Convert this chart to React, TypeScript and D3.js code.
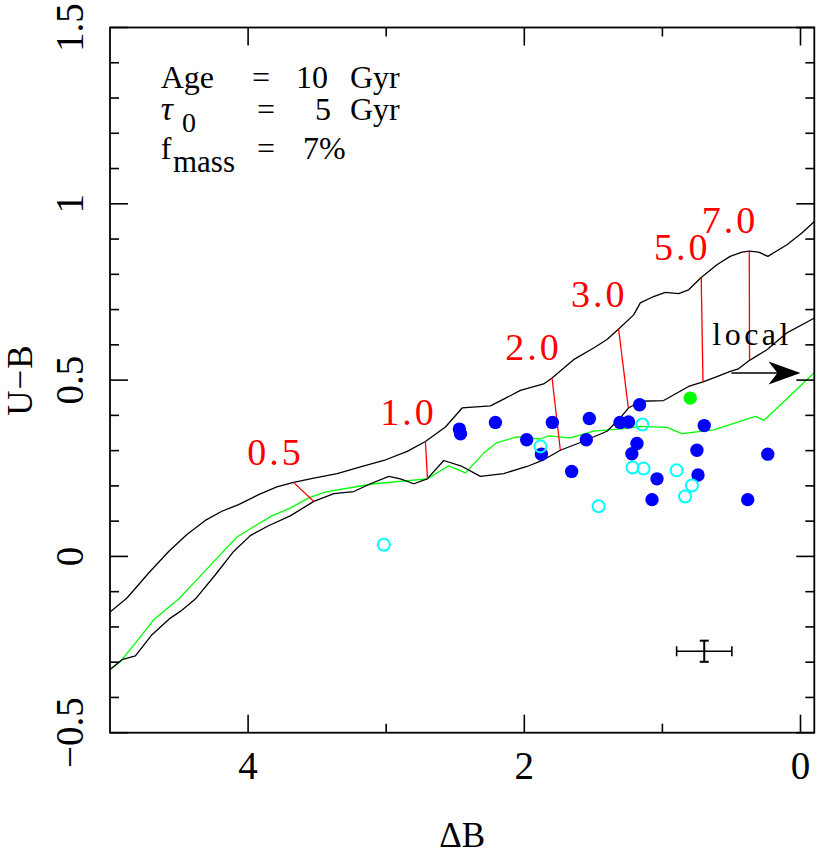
import React from "react";
import * as d3 from "d3";

// ---------- data ----------
const upperDB = [5.0, 4.877, 4.72, 4.575, 4.443, 4.31, 4.19, 4.069, 3.924, 3.792, 3.671, 3.524, 3.355, 3.186, 3.017, 2.848, 2.716, 2.571, 2.45, 2.245, 2.149, 2.028, 1.86, 1.799, 1.643, 1.498, 1.401, 1.317, 1.208, 1.16, 1.064, 0.979, 0.883, 0.81, 0.719, 0.605, 0.509, 0.424, 0.369, 0.304, 0.236, 0.098, -0.01, -0.101];
const upperUB = [-0.158, -0.118, -0.047, 0.014, 0.062, 0.102, 0.128, 0.147, 0.175, 0.197, 0.21, 0.222, 0.235, 0.254, 0.272, 0.298, 0.326, 0.367, 0.421, 0.427, 0.446, 0.471, 0.489, 0.506, 0.558, 0.591, 0.615, 0.645, 0.685, 0.719, 0.737, 0.749, 0.745, 0.756, 0.791, 0.827, 0.851, 0.863, 0.866, 0.863, 0.851, 0.884, 0.917, 0.95];

const lowerDB = [5.0, 4.913, 4.816, 4.696, 4.563, 4.491, 4.382, 4.237, 4.105, 3.984, 3.852, 3.695, 3.524, 3.379, 3.234, 3.114, 2.981, 2.897, 2.8, 2.703, 2.583, 2.45, 2.318, 2.149, 1.98, 1.86, 1.739, 1.594, 1.401, 1.305, 1.245, 1.16, 0.991, 0.81, 0.706, 0.605, 0.509, 0.449, 0.369, 0.243, 0.098, -0.101];
const lowerUB = [-0.321, -0.293, -0.282, -0.222, -0.175, -0.156, -0.121, -0.052, 0.014, 0.059, 0.087, 0.115, 0.156, 0.178, 0.184, 0.206, 0.227, 0.22, 0.206, 0.22, 0.272, 0.255, 0.227, 0.235, 0.255, 0.274, 0.301, 0.323, 0.355, 0.393, 0.421, 0.44, 0.442, 0.482, 0.495, 0.51, 0.525, 0.532, 0.556, 0.586, 0.634, 0.676];

const modelDB = [5.0, 4.925, 4.816, 4.684, 4.503, 4.37, 4.213, 4.081, 3.948, 3.828, 3.695, 3.562, 3.439, 3.09, 2.703, 2.547, 2.426, 2.294, 2.197, 2.052, 1.884, 1.823, 1.666, 1.498, 1.317, 1.16, 0.967, 0.858, 0.63, 0.436, 0.328, 0.263, -0.046, -0.101];
const modelUB = [-0.321, -0.298, -0.246, -0.18, -0.121, -0.066, 0.0, 0.055, 0.087, 0.115, 0.137, 0.166, 0.183, 0.206, 0.22, 0.257, 0.237, 0.293, 0.323, 0.339, 0.333, 0.342, 0.336, 0.355, 0.361, 0.369, 0.366, 0.348, 0.359, 0.383, 0.397, 0.386, 0.501, 0.522];

const ageLabels = ["0.5", "1.0", "2.0", "3.0", "5.0", "7.0"];
const ageTopDB = [3.671, 2.716, 1.799, 1.317, 0.719, 0.371];
const ageTopUB = [0.21, 0.326, 0.506, 0.645, 0.791, 0.866];
const ageBotDB = [3.522, 2.701, 1.739, 1.247, 0.706, 0.369];
const ageBotUB = [0.155, 0.22, 0.301, 0.422, 0.495, 0.556];
const ageTextDB = [3.802, 2.839, 1.934, 1.457, 0.856, 0.511];
const ageTextUB = [0.258, 0.374, 0.556, 0.708, 0.841, 0.917];

const filledDB = [2.47, 2.462, 2.209, 1.983, 1.876, 1.797, 1.657, 1.551, 1.529, 1.307, 1.245, 1.165, 1.184, 1.221, 1.039, 1.075, 0.697, 0.75, 0.742, 0.382, 0.237];
const filledUB = [0.361, 0.348, 0.38, 0.331, 0.29, 0.38, 0.241, 0.331, 0.391, 0.38, 0.381, 0.43, 0.32, 0.291, 0.22, 0.161, 0.371, 0.301, 0.231, 0.161, 0.29];

const openDB = [3.017, 1.883, 1.462, 1.216, 1.136, 1.145, 0.897, 0.786, 0.836];
const openUB = [0.033, 0.312, 0.142, 0.252, 0.249, 0.374, 0.244, 0.201, 0.17];

const localDB = [0.798];
const localUB = [0.449];

const errCenter = [0.697, -0.269];
const errHalf = [0.2, 0.03];

const arrowFrom = [0.5, 0.52];
const arrowTo = [0.0, 0.52];
const localTextPos = [0.639, 0.6];

const xMajor = [4, 2, 0];
const xMinor = [3, 1];
const yMajor = [1.5, 1, 0.5, 0, -0.5];
const yMajorLabels = ["1.5", "1", "0.5", "0", "\u22120.5"];
const yMinor = d3.range(-5, 16).map((i) => i / 10).filter((v) => Math.abs(v * 2 - Math.round(v * 2)) > 1e-6);

// ---------- layout ----------
const W = 817;
const H = 855;
const L = 110, R = 814.3, T = 27.5, B = 732.7;
const FONT = "'Liberation Serif', 'Times New Roman', serif";

const x = d3.scaleLinear().domain([5, -0.1]).range([L, R]);
const y = d3.scaleLinear().domain([-0.5, 1.5]).range([B, T]);

const zip = (a: number[], b: number[]) => a.map((v, i) => [v, b[i]] as [number, number]);
const line = d3.line<[number, number]>().x((d) => x(d[0])).y((d) => y(d[1]));

export default function App() {
  const major = 18, minor = 9;
  const ex = x(errCenter[0]), ey = y(errCenter[1]);
  const ex0 = x(errCenter[0] + errHalf[0]), ex1 = x(errCenter[0] - errHalf[0]);
  const ey0 = y(errCenter[1] + errHalf[1]), ey1 = y(errCenter[1] - errHalf[1]);
  const ax0 = x(arrowFrom[0]), ax1 = x(arrowTo[0]), ay = y(arrowFrom[1]);
  const annX = x(4.633);
  return (
    <svg width={W} height={H} style={{ position: "absolute", left: 0, top: 0, background: "#fff" }} fontFamily={FONT}>
      <defs>
        <clipPath id="plotclip">
          <rect x={L} y={T} width={R - L} height={B - T} />
        </clipPath>
      </defs>
      <rect x={0} y={0} width={W} height={H} fill="#fff" />

      <g clipPath="url(#plotclip)" fill="none" strokeLinejoin="round">
        <path d={line(zip(modelDB, modelUB)) || ""} stroke="#00ff00" strokeWidth={1.3} />
        <path d={line(zip(upperDB, upperUB)) || ""} stroke="#000" strokeWidth={1.3} />
        <path d={line(zip(lowerDB, lowerUB)) || ""} stroke="#000" strokeWidth={1.3} />
        {ageLabels.map((_, i) => (
          <line key={i} x1={x(ageTopDB[i])} y1={y(ageTopUB[i])} x2={x(ageBotDB[i])} y2={y(ageBotUB[i])} stroke="#ff0000" strokeWidth={1.3} />
        ))}
      </g>

      {ageLabels.map((t, i) => (
        <text key={t} x={x(ageTextDB[i])} y={y(ageTextUB[i])} fill="#ff0000" fontSize={38} textAnchor="middle" letterSpacing={3}>
          {t}
        </text>
      ))}

      {filledDB.map((d, i) => (
        <circle key={"f" + i} cx={x(d)} cy={y(filledUB[i])} r={6.7} fill="#0000ff" />
      ))}
      {openDB.map((d, i) => (
        <circle key={"o" + i} cx={x(d)} cy={y(openUB[i])} r={6} fill="none" stroke="#00ffff" strokeWidth={2} />
      ))}
      {localDB.map((d, i) => (
        <circle key={"l" + i} cx={x(d)} cy={y(localUB[i])} r={6.7} fill="#00ff00" />
      ))}

      {/* error bar */}
      <g stroke="#000">
        <line x1={ex0} x2={ex1} y1={ey} y2={ey} strokeWidth={1.6} />
        <line x1={ex0} x2={ex0} y1={ey - 5} y2={ey + 5} strokeWidth={1.6} />
        <line x1={ex1} x2={ex1} y1={ey - 5} y2={ey + 5} strokeWidth={1.6} />
        <line x1={ex} x2={ex} y1={ey0} y2={ey1} strokeWidth={2} />
        <line x1={ex - 4.5} x2={ex + 4.5} y1={ey0} y2={ey0} strokeWidth={2} />
        <line x1={ex - 4.5} x2={ex + 4.5} y1={ey1} y2={ey1} strokeWidth={2} />
      </g>

      {/* local arrow */}
      <line x1={ax0} x2={ax1 - 20} y1={ay} y2={ay} stroke="#000" strokeWidth={1.6} />
      <path d={`M${ax1},${ay} L${ax1 - 32},${ay - 11.5} L${ax1 - 23},${ay} L${ax1 - 32},${ay + 11.5} Z`} fill="#000" />
      <text x={x(localTextPos[0])} y={y(localTextPos[1])} fontSize={32} letterSpacing={3.5}>local</text>

      {/* annotation */}
      <g fontSize={32} fill="#000">
        <text x={annX} y={88}>Age</text>
        <text x={252} y={88}>=</text>
        <text x={296} y={88}>10</text>
        <text x={350} y={88}>Gyr</text>

        <text x={annX} y={120} fontStyle="italic" fontSize={34}>τ</text>
        <text x={182} y={131.7} fontSize={28}>0</text>
        <text x={257} y={120}>=</text>
        <text x={315} y={120}>5</text>
        <text x={350} y={120}>Gyr</text>

        <text x={annX} y={159}>f</text>
        <text x={173} y={171.7} fontSize={31}>mass</text>
        <text x={257} y={159}>=</text>
        <text x={303} y={159}>7%</text>
      </g>

      {/* frame */}
      <rect x={L} y={T} width={R - L} height={B - T} fill="none" stroke="#000" strokeWidth={1.8} />

      {/* ticks */}
      <g stroke="#000" strokeWidth={1.6}>
        {xMajor.map((v) => (
          <g key={"xm" + v}>
            <line x1={x(v)} x2={x(v)} y1={B} y2={B - major} />
            <line x1={x(v)} x2={x(v)} y1={T} y2={T + major} />
          </g>
        ))}
        {xMinor.map((v) => (
          <g key={"xn" + v}>
            <line x1={x(v)} x2={x(v)} y1={B} y2={B - minor} />
            <line x1={x(v)} x2={x(v)} y1={T} y2={T + minor} />
          </g>
        ))}
        {yMajor.map((v) => (
          <g key={"ym" + v}>
            <line x1={L} x2={L + major} y1={y(v)} y2={y(v)} />
            <line x1={R} x2={R - major} y1={y(v)} y2={y(v)} />
          </g>
        ))}
        {yMinor.map((v) => (
          <g key={"yn" + v}>
            <line x1={L} x2={L + minor} y1={y(v)} y2={y(v)} />
            <line x1={R} x2={R - minor} y1={y(v)} y2={y(v)} />
          </g>
        ))}
      </g>

      {/* tick labels */}
      <g fontSize={39} fill="#000">
        {xMajor.map((v) => (
          <text key={"xl" + v} x={x(v)} y={779} textAnchor="middle">{String(v)}</text>
        ))}
        {yMajor.map((v, i) => (
          <text key={"yl" + v} transform={`translate(83,${y(v)}) rotate(-90)`} textAnchor="middle">{yMajorLabels[i]}</text>
        ))}
      </g>

      {/* axis titles */}
      <text x={(L + R) / 2} y={847} textAnchor="middle" fontSize={35}>ΔB</text>
      <text transform={`translate(32,${(T + B) / 2}) rotate(-90)`} textAnchor="middle" fontSize={35} letterSpacing={1}>U−B</text>
    </svg>
  );
}
